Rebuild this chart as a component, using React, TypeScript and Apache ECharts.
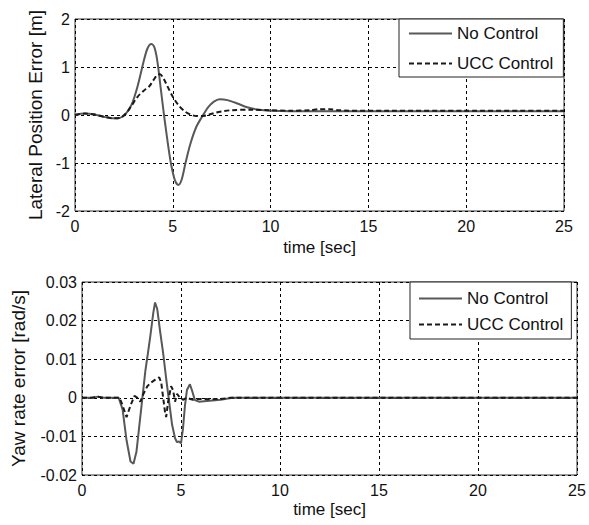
import React, { useEffect, useRef } from "react";
import * as echarts from "echarts";

// ---- Data ----
const T_LAT_NC = [0, 0.5, 1.0, 1.5, 2.0, 2.3, 2.6, 2.9, 3.2, 3.5, 3.7, 3.9, 4.05, 4.2, 4.4, 4.55, 4.75, 4.9, 5.1, 5.28, 5.45, 5.65, 5.9, 6.2, 6.55, 6.8, 7.1, 7.4, 7.8, 8.3, 8.8, 9.4, 10, 11, 12, 14, 17, 20, 25];
const LAT_NC = [0, 0.03, 0.01, -0.04, -0.07, -0.06, 0.03, 0.22, 0.6, 1.1, 1.38, 1.48, 1.42, 1.15, 0.5, 0.0, -0.6, -1.0, -1.35, -1.46, -1.35, -1.0, -0.6, -0.25, 0.0, 0.16, 0.28, 0.33, 0.31, 0.24, 0.16, 0.11, 0.09, 0.08, 0.08, 0.08, 0.08, 0.08, 0.08];

const T_LAT_UCC = [0, 0.5, 1.0, 1.5, 2.0, 2.3, 2.6, 2.9, 3.2, 3.5, 3.8, 4.0, 4.2, 4.35, 4.5, 4.7, 5.0, 5.3, 5.6, 5.9, 6.2, 6.5, 6.8, 7.2, 7.6, 8.0, 9, 10, 11, 12, 12.5, 13, 13.5, 14, 16, 20, 25];
const LAT_UCC = [0, 0.03, 0.01, -0.04, -0.07, -0.06, 0.03, 0.2, 0.38, 0.5, 0.6, 0.72, 0.83, 0.85, 0.78, 0.62, 0.38, 0.2, 0.08, 0.01, -0.02, -0.02, 0.0, 0.05, 0.08, 0.1, 0.11, 0.1, 0.09, 0.1, 0.12, 0.12, 0.1, 0.09, 0.09, 0.09, 0.09];

const T_YAW_NC = [0, 0.5, 0.8, 1.1, 1.5, 1.85, 2.05, 2.25, 2.45, 2.6, 2.75, 2.9, 3.05, 3.2, 3.3, 3.45, 3.6, 3.69, 3.8, 3.95, 4.1, 4.25, 4.4, 4.55, 4.7, 4.8, 4.9, 5.0, 5.1, 5.2, 5.3, 5.45, 5.55, 5.7, 5.9, 6.3, 7.0, 7.6, 8.5, 25];
const YAW_NC = [0, 0, 0.0003, 0, 0, 0, -0.003, -0.011, -0.0165, -0.0171, -0.014, -0.007, 0, 0.007, 0.0105, 0.016, 0.022, 0.0247, 0.023, 0.017, 0.0115, 0.005, -0.001, -0.007, -0.0105, -0.0115, -0.0113, -0.0118, -0.008, -0.002, 0.002, 0.0035, 0.002, -0.0006, -0.001, -0.0008, -0.0005, 0, 0, 0];

const T_YAW_UCC = [0, 0.5, 0.8, 1.1, 1.5, 1.9, 2.05, 2.25, 2.45, 2.65, 2.8, 2.95, 3.1, 3.3, 3.5, 3.7, 3.9, 4.0, 4.1, 4.2, 4.25, 4.35, 4.5, 4.6, 4.7, 4.8, 4.95, 5.1, 5.3, 5.6, 6.0, 6.5, 7.0, 7.5, 8.0, 25];
const YAW_UCC = [0, 0, 0.0003, 0, 0, 0, -0.002, -0.005, -0.002, 0.0005, 0.0, -0.001, 0.001, 0.003, 0.004, 0.0047, 0.0053, 0.004, 0.0, -0.004, -0.005, -0.001, 0.003, 0.002, -0.001, 0.001, 0.0, -0.0005, 0.0, -0.0005, -0.0003, -0.0004, -0.0003, 0, 0, 0];

const SERIES_NAMES = ["No Control", "UCC Control"];
const X_LABEL = "time [sec]";
const Y_LABEL_TOP = "Lateral Position Error [m]";
const Y_LABEL_BOTTOM = "Yaw rate error [rad/s]";

const pairs = (t: number[], y: number[]) => t.map((v, i) => [v, y[i]]);

const FONT = "Liberation Sans, Arial, Helvetica, sans-serif";
const TXT = "#111";

export default function App() {
  const ref = useRef<HTMLDivElement>(null);
  useEffect(() => {
    if (!ref.current) return;
    const chart = echarts.init(ref.current, null, { renderer: "svg" });
    const splitLine = { show: true, lineStyle: { color: "#000", width: 1, type: [3, 3] as any } };
    const xAxisBase = {
      type: "value" as const,
      min: 0,
      max: 25,
      interval: 5,
      axisLine: { show: false },
      axisTick: { show: false },
      splitLine,
      axisLabel: { color: TXT, fontSize: 16, fontFamily: FONT, margin: 7 },
      name: X_LABEL,
      nameLocation: "middle" as const,
      nameTextStyle: { color: TXT, fontSize: 17, fontFamily: FONT },
    };
    const solid = { color: "#585858", width: 2, type: "solid" as const };
    const dashed = { color: "#1a1a1a", width: 2, type: [5, 3] as any };
    const legendBase = {
      orient: "vertical" as const,
      itemWidth: 43,
      itemHeight: 16,
      borderColor: "#222",
      borderWidth: 1,
      backgroundColor: "#fff",
      borderRadius: 0,
      itemStyle: { opacity: 0, borderWidth: 0 },
      textStyle: { color: TXT, fontSize: 17, fontFamily: FONT },
      data: SERIES_NAMES,
      selectedMode: false,
    };
    chart.setOption({
      animation: false,
      backgroundColor: "#fff",
      grid: [
        { left: 75, top: 19, width: 489, height: 192, show: true, borderColor: "#333", borderWidth: 1, backgroundColor: "#fff", containLabel: false },
        { left: 82, top: 282, width: 495, height: 193, show: true, borderColor: "#333", borderWidth: 1, backgroundColor: "#fff", containLabel: false },
      ],
      xAxis: [
        { ...xAxisBase, gridIndex: 0, nameGap: 28 },
        { ...xAxisBase, gridIndex: 1, nameGap: 26 },
      ],
      yAxis: [
        {
          type: "value", gridIndex: 0, min: -2, max: 2, interval: 1,
          axisLine: { show: false }, axisTick: { show: false }, splitLine,
          axisLabel: { color: TXT, fontSize: 16, fontFamily: FONT, margin: 5 },
          name: Y_LABEL_TOP, nameLocation: "middle", nameGap: 28,
          nameTextStyle: { color: TXT, fontSize: 19, fontFamily: FONT },
        },
        {
          type: "value", gridIndex: 1, min: -0.02, max: 0.03, interval: 0.01,
          axisLine: { show: false }, axisTick: { show: false }, splitLine,
          axisLabel: {
            color: TXT, fontSize: 16, fontFamily: FONT, margin: 5,
            formatter: (v: number) => (Math.abs(v) < 1e-9 ? "0" : String(+v.toFixed(2))),
          },
          name: Y_LABEL_BOTTOM, nameLocation: "middle", nameGap: 54,
          nameTextStyle: { color: TXT, fontSize: 19, fontFamily: FONT },
        },
      ],
      legend: [
        { ...legendBase, left: 399, top: 19, padding: [6, 10, 5, 9], itemGap: 13 },
        { ...legendBase, left: 410, top: 282, padding: [8, 8, 6, 8], itemGap: 9 },
      ],
      series: [
        { name: SERIES_NAMES[0], type: "line", xAxisIndex: 0, yAxisIndex: 0, data: pairs(T_LAT_NC, LAT_NC), showSymbol: false, symbol: "none", lineStyle: solid, itemStyle: { color: "#585858" }, smooth: 0.3 },
        { name: SERIES_NAMES[1], type: "line", xAxisIndex: 0, yAxisIndex: 0, data: pairs(T_LAT_UCC, LAT_UCC), showSymbol: false, symbol: "none", lineStyle: dashed, itemStyle: { color: "#1a1a1a" }, smooth: 0.3 },
        { name: SERIES_NAMES[0], type: "line", xAxisIndex: 1, yAxisIndex: 1, data: pairs(T_YAW_NC, YAW_NC), showSymbol: false, symbol: "none", lineStyle: solid, itemStyle: { color: "#585858" } },
        { name: SERIES_NAMES[1], type: "line", xAxisIndex: 1, yAxisIndex: 1, data: pairs(T_YAW_UCC, YAW_UCC), showSymbol: false, symbol: "none", lineStyle: dashed, itemStyle: { color: "#1a1a1a" } },
      ],
    });
    return () => chart.dispose();
  }, []);
  return (
    <div
      ref={ref}
      style={{ position: "absolute", left: 0, top: 0, width: 589, height: 525, background: "#fff" }}
    />
  );
}
